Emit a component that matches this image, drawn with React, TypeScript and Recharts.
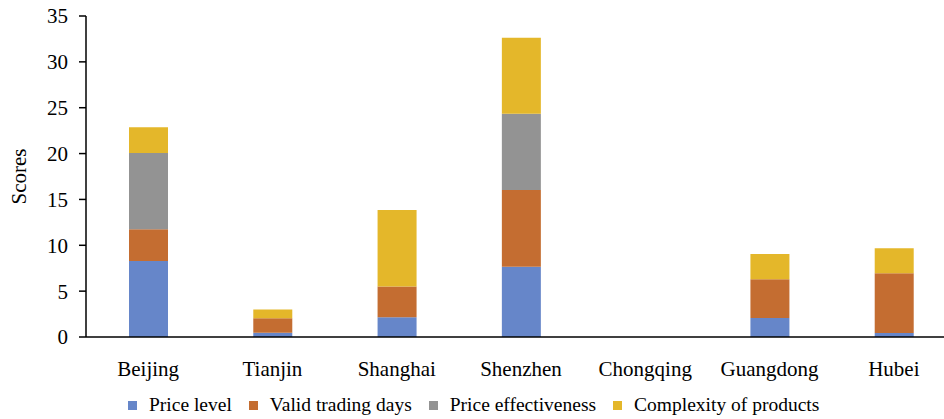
import { BarChart, Bar, XAxis, YAxis, Legend } from "recharts";

const cities = ["Beijing", "Tianjin", "Shanghai", "Shenzhen", "Chongqing", "Guangdong", "Hubei"];

const priceLevel = [8.3, 0.45, 2.15, 7.67, 0, 2.07, 0.44];
const validTradingDays = [3.45, 1.6, 3.35, 8.36, 0, 4.22, 6.5];
const priceEffectiveness = [8.32, 0, 0, 8.32, 0, 0, 0];
const productComplexity = [2.8, 0.95, 8.35, 8.29, 0, 2.76, 2.75];

const yTicks = [0, 5, 10, 15, 20, 25, 30, 35];

const series = [
  { key: "price", name: "Price level", color: "#6686C9" },
  { key: "days", name: "Valid trading days", color: "#C46D31" },
  { key: "effect", name: "Price effectiveness", color: "#939393" },
  { key: "complex", name: "Complexity of products", color: "#E4B72A" },
];

const data = cities.map((city, i) => ({
  city,
  price: priceLevel[i],
  days: validTradingDays[i],
  effect: priceEffectiveness[i],
  complex: productComplexity[i],
}));

const font = "Liberation Serif, Times New Roman, serif";

function LegendRow() {
  return (
    <div style={{ display: "flex", alignItems: "center", paddingLeft: 128, fontFamily: font, fontSize: 19.5, color: "#000" }}>
      {series.map((s) => (
        <div key={s.key} style={{ display: "flex", alignItems: "center", marginRight: 17 }}>
          <span style={{ width: 9, height: 9, background: s.color, display: "inline-block", marginRight: 12 }} />
          <span>{s.name}</span>
        </div>
      ))}
    </div>
  );
}

export default function App() {
  return (
    <div style={{ position: "absolute", left: 0, top: 0, width: 944, height: 419, overflow: "hidden", background: "#fff" }}>
      <BarChart width={956} height={419} data={data} margin={{ top: 16, right: 0, bottom: 0, left: 0 }}>
        <XAxis
          dataKey="city"
          height={50}
          tickLine={false}
          tickSize={0}
          tickMargin={24}
          axisLine={{ stroke: "#000", strokeWidth: 1.5 }}
          tick={{ fill: "#000", fontSize: 21, fontFamily: font }}
          interval={0}
        />
        <YAxis
          width={86}
          domain={[0, 35]}
          ticks={yTicks}
          tickSize={7}
          tickMargin={11}
          tickLine={{ stroke: "#000", strokeWidth: 1.5 }}
          axisLine={{ stroke: "#000", strokeWidth: 1.5 }}
          tick={{ fill: "#000", fontSize: 21, fontFamily: font }}
          label={{ value: "Scores", angle: -90, position: "insideLeft", dx: 14, style: { fill: "#000", fontSize: 21, fontFamily: font, textAnchor: "middle" } }}
        />
        <Legend verticalAlign="bottom" height={32} content={() => <LegendRow />} wrapperStyle={{ left: 0, width: 944, top: 394 }} />
        {series.map((s) => (
          <Bar key={s.key} dataKey={s.key} name={s.name} stackId="a" fill={s.color} barSize={39} isAnimationActive={false} />
        ))}
      </BarChart>
    </div>
  );
}
